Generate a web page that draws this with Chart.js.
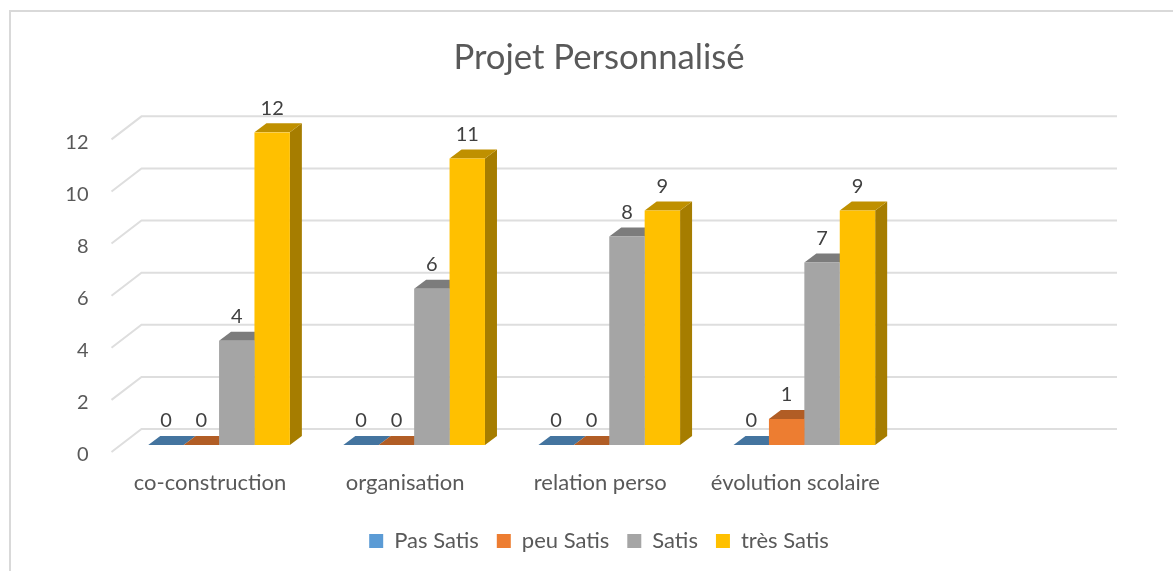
<!DOCTYPE html>
<html>
<head>
<meta charset="utf-8">
<title>Projet Personnalisé</title>
<script src="https://cdn.jsdelivr.net/npm/chart.js@4"></script>
<style>
    html, body { margin: 0; padding: 0; background: #fff; overflow: hidden; width: 1173px; height: 571px; }
    #frame { position: absolute; left: 9px; top: 10px; width: 1176px; height: 600px; border: 2px solid #d9d9d9; }
    #chart { display: block; }
</style>
</head>
<body>
<div id="frame"><canvas id="chart" width="1176" height="550"></canvas></div>
<script>
// ===============================
//  DATA
// ===============================
const categories = ['co-construction', 'organisation', 'relation perso', 'évolution scolaire', ''];
const pasSatis = [0, 0, 0, 0, null];
const peuSatis = [0, 0, 0, 1, null];
const satis = [4, 6, 8, 7, null];
const tresSatis = [12, 11, 9, 9, null];
const seriesNames = ['Pas Satis', 'peu Satis', 'Satis', 'très Satis'];

const frontColors = ['#5b9bd5', '#ed7d31', '#a5a5a5', '#ffc000'];
const topColors = ['#44749f', '#b15d25', '#7c7c7c', '#bf9000'];
const sideColors = ['#3b6489', '#9a5120', '#6b6b6b', '#a67d00'];

const FONT = 'Lato, "Open Sans", sans-serif';
const TEXT = '#595959';
const GRID = '#dedede';

// ===============================
//  3D LOOK
// ===============================
const wallPlugin = {
    id: 'wall',
    beforeDatasetsDraw(chart) {
        const { ctx, chartArea, scales } = chart;

        // slanted grid lines on floor and back wall
        ctx.save();
        ctx.strokeStyle = GRID;
        ctx.lineWidth = 2;
        scales.y.ticks.forEach((t) => {
            const y = scales.y.getPixelForValue(t.value);
            ctx.beginPath();
            ctx.moveTo(chartArea.left - 10, y + 7);
            ctx.lineTo(chartArea.left + 20, y - 16);
            ctx.lineTo(chartArea.right + 20, y - 16);
            ctx.stroke();
        });

        // top and side faces, the fronts are painted by Chart.js afterwards
        const dx = 12, dy = 9;
        chart.data.datasets.forEach((ds, i) => {
            chart.getDatasetMeta(i).data.forEach((bar, j) => {
                if (ds.data[j] === null) return;
                const half = bar.width / 2;
                const l = bar.x - half, r = bar.x + half;

                ctx.fillStyle = sideColors[i];
                ctx.beginPath();
                ctx.moveTo(r, bar.y);
                ctx.lineTo(r + dx, bar.y - dy);
                ctx.lineTo(r + dx, bar.base - dy);
                ctx.lineTo(r, bar.base);
                ctx.closePath();
                ctx.fill();

                ctx.fillStyle = topColors[i];
                ctx.beginPath();
                ctx.moveTo(l, bar.y);
                ctx.lineTo(l + dx, bar.y - dy);
                ctx.lineTo(r + dx, bar.y - dy);
                ctx.lineTo(r, bar.y);
                ctx.closePath();
                ctx.fill();
            });
        });
        ctx.restore();
    },
    afterDatasetsDraw(chart) {
        const { ctx } = chart;

        // value labels above each bar
        ctx.save();
        ctx.font = '20px ' + FONT;
        ctx.fillStyle = '#404040';
        ctx.textAlign = 'center';
        ctx.textBaseline = 'middle';
        chart.data.datasets.forEach((ds, i) => {
            chart.getDatasetMeta(i).data.forEach((bar, j) => {
                if (ds.data[j] === null) return;
                ctx.fillText(String(ds.data[j]), bar.x, bar.y - 24);
            });
        });
        ctx.restore();
    }
};

// ===============================
//  CHART
// ===============================
new Chart(document.getElementById('chart'), {
    type: 'bar',
    plugins: [wallPlugin],
    data: {
        labels: categories,
        datasets: [pasSatis, peuSatis, satis, tresSatis].map((values, i) => ({
            label: seriesNames[i],
            data: values,
            backgroundColor: frontColors[i],
            borderWidth: 0,
            categoryPercentage: 0.726,
            barPercentage: 1
        }))
    },
    options: {
        responsive: false,
        animation: false,
        scales: {
            x: {
                grid: { display: false, drawTicks: false },
                border: { display: false },
                afterFit: (scale) => { scale.height = 67; },
                ticks: {
                    color: TEXT,
                    font: { family: FONT, size: 22 },
                    padding: 25,
                    labelOffset: -9,
                    maxRotation: 0,
                    autoSkip: false
                }
            },
            y: {
                min: 0,
                max: 12,
                grid: { display: false, drawTicks: false },
                border: { display: false },
                afterFit: (scale) => { scale.width = 110.5; },
                ticks: {
                    stepSize: 2,
                    color: TEXT,
                    font: { family: FONT, size: 20 },
                    padding: 33,
                    labelOffset: 10
                }
            },
            // empty axis, only keeps the plot clear of the right side
            spacer: {
                axis: 'y',
                position: 'right',
                grid: { display: false, drawTicks: false },
                border: { display: false },
                ticks: { display: false },
                afterFit: (scale) => { scale.width = 90; }
            }
        },
        plugins: {
            title: {
                display: true,
                text: 'Projet Personnalisé',
                color: TEXT,
                font: { family: FONT, size: 34.7, weight: 'normal' },
                padding: { top: 25, bottom: 53.7 }
            },
            legend: {
                position: 'bottom',
                labels: {
                    color: TEXT,
                    font: { family: FONT, size: 22 },
                    boxWidth: 14,
                    boxHeight: 14,
                    padding: 18
                }
            },
            tooltip: { enabled: false }
        }
    }
});
</script>
</body>
</html>
